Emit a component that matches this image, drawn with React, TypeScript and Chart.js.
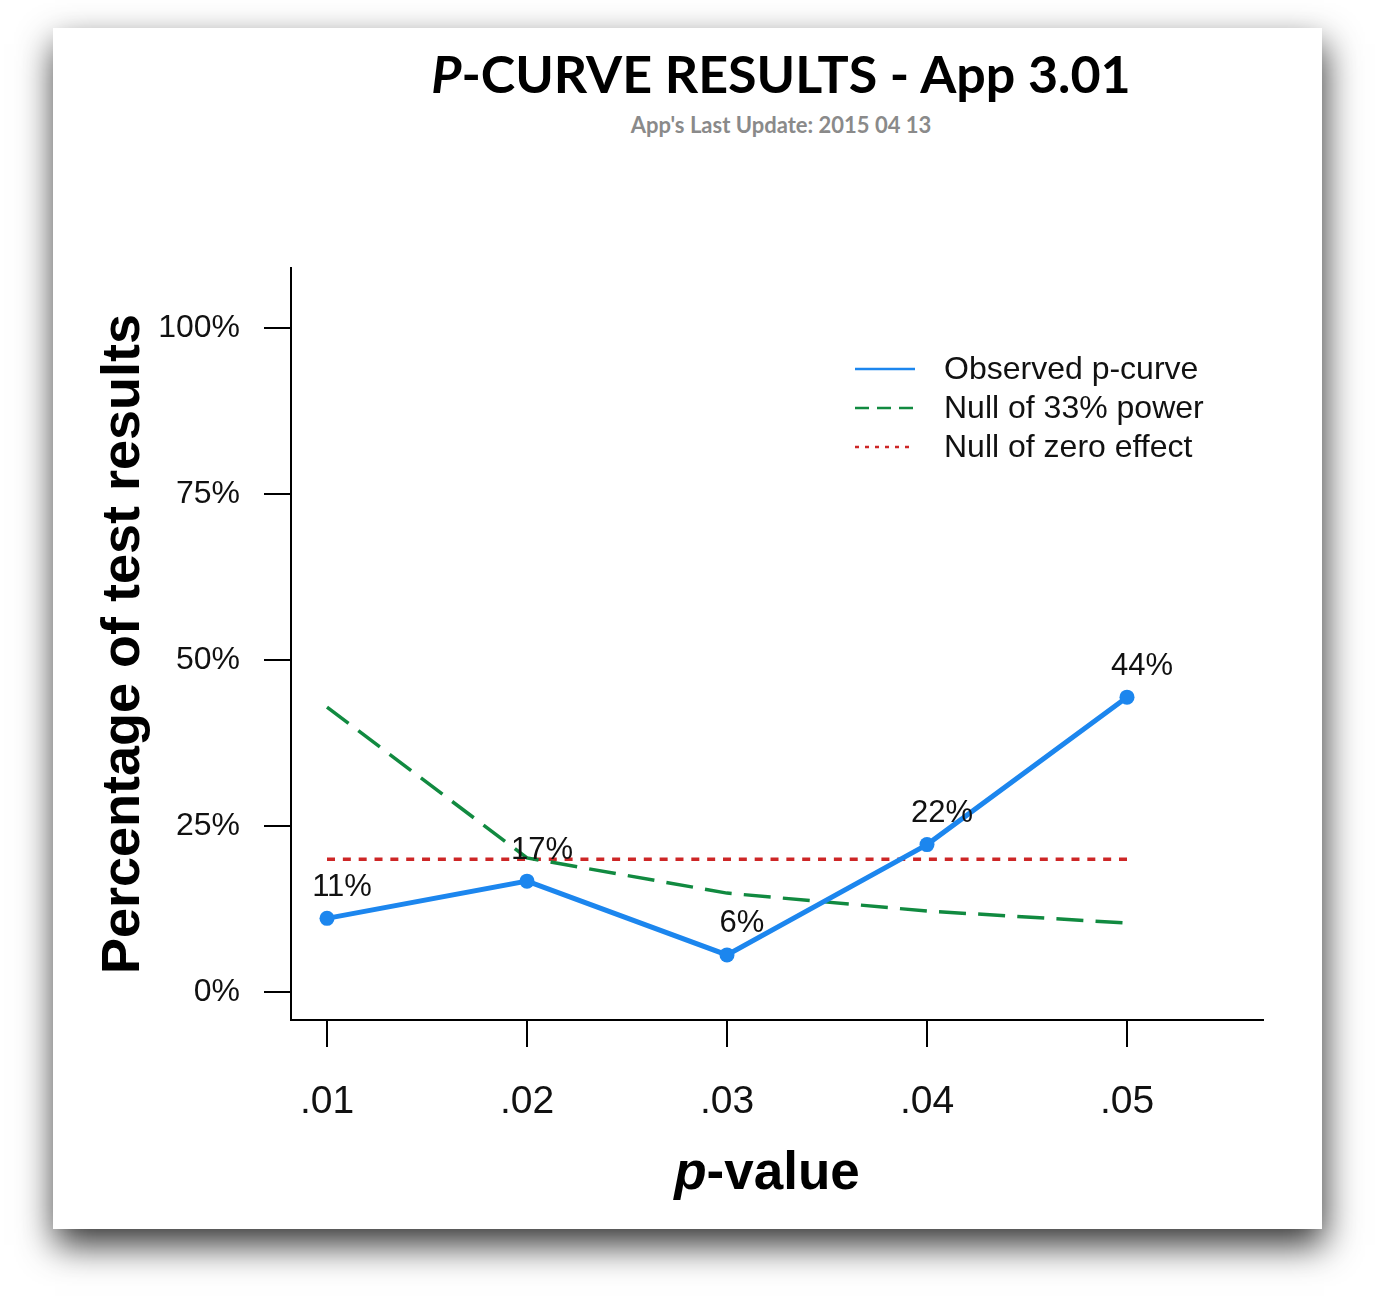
import React, { useEffect, useRef } from "react";
import { Chart, registerables } from "chart.js";

Chart.register(...registerables);

// ---- data ----
const pValues = [0.01, 0.02, 0.03, 0.04, 0.05];
const observed = [11.1, 16.7, 5.6, 22.2, 44.4];
const null33 = [42.9, 20.2, 14.9, 12.2, 10.4];
const nullZero = [20, 20, 20, 20, 20];
const observedLabels = ["11%", "17%", "6%", "22%", "44%"];
const xTickValues = [0.01, 0.02, 0.03, 0.04, 0.05];
const xTickLabels = [".01", ".02", ".03", ".04", ".05"];
const yTickValues = [0, 25, 50, 75, 100];
const yTickLabels = ["0%", "25%", "50%", "75%", "100%"];
const seriesNames = ["Observed p-curve", "Null of 33% power", "Null of zero effect"];

const BLUE = "#1C86EE";
const GREEN = "#118A40";
const RED = "#CD2626";
const FONT = '"Liberation Sans", Arial, Helvetica, sans-serif';

const overlayPlugin = {
  id: "overlay",
  afterDatasetsDraw(chart: any) {
    const ctx = chart.ctx as CanvasRenderingContext2D;
    const area = chart.chartArea;
    ctx.save();
    // data labels on observed curve
    const meta = chart.getDatasetMeta(0);
    ctx.font = `31px ${FONT}`;
    ctx.fillStyle = "#111";
    ctx.textAlign = "center";
    ctx.textBaseline = "middle";
    meta.data.forEach((pt: any, i: number) => {
      ctx.fillText(observedLabels[i], pt.x + 15, pt.y - 31);
    });

    // legend
    const styles = [
      { color: BLUE, dash: [] as number[], width: 2.5 },
      { color: GREEN, dash: [14, 8], width: 2.5 },
      { color: RED, dash: [4, 6], width: 2.5 },
    ];
    const lx1 = area.left + 564;
    const lx2 = area.left + 624;
    const tx = area.left + 653;
    const rowY = [area.top + 101, area.top + 140, area.top + 179];
    ctx.font = `32px ${FONT}`;
    ctx.textAlign = "left";
    ctx.textBaseline = "middle";
    seriesNames.forEach((name, i) => {
      const s = styles[i];
      ctx.beginPath();
      ctx.setLineDash(s.dash);
      ctx.strokeStyle = s.color;
      ctx.lineWidth = s.width;
      ctx.moveTo(lx1, rowY[i]);
      ctx.lineTo(lx2, rowY[i]);
      ctx.stroke();
      ctx.setLineDash([]);
      ctx.fillStyle = "#111";
      ctx.fillText(name, tx, rowY[i] + 1);
    });

    // y axis title
    ctx.save();
    ctx.translate(area.left - 152, (area.top + area.bottom) / 2);
    ctx.rotate(-Math.PI / 2);
    ctx.font = `bold 54px ${FONT}`;
    ctx.fillStyle = "#000";
    ctx.textAlign = "center";
    ctx.textBaseline = "alphabetic";
    ctx.fillText("Percentage of test results", 0, 0);
    ctx.restore();

    // x axis title: italic p + bold -value
    const partA = "p";
    const partB = "-value";
    const fA = `italic bold 53px ${FONT}`;
    const fB = `bold 53px ${FONT}`;
    ctx.font = fA;
    const wA = ctx.measureText(partA).width;
    ctx.font = fB;
    const wB = ctx.measureText(partB).width;
    const cx = (area.left + area.right) / 2 - 10;
    const startX = cx - (wA + wB) / 2;
    const by = area.bottom + 169;
    ctx.textAlign = "left";
    ctx.textBaseline = "alphabetic";
    ctx.fillStyle = "#000";
    ctx.font = fA;
    ctx.fillText(partA, startX, by);
    ctx.font = fB;
    ctx.fillText(partB, startX + wA, by);
    ctx.restore();
  },
};

export default function App() {
  const canvasRef = useRef<HTMLCanvasElement | null>(null);

  useEffect(() => {
    const canvas = canvasRef.current;
    if (!canvas) return;
    const chart = new Chart(canvas, {
      type: "line",
      data: {
        datasets: [
          {
            label: seriesNames[0],
            data: pValues.map((x, i) => ({ x, y: observed[i] })),
            borderColor: BLUE,
            backgroundColor: BLUE,
            borderWidth: 5,
            pointRadius: 7.5,
            pointBackgroundColor: BLUE,
            pointBorderWidth: 0,
            tension: 0,
          },
          {
            label: seriesNames[1],
            data: pValues.map((x, i) => ({ x, y: null33[i] })),
            borderColor: GREEN,
            borderWidth: 3.5,
            borderDash: [27, 12.2],
            pointRadius: 0,
            tension: 0,
          },
          {
            label: seriesNames[2],
            data: pValues.map((x, i) => ({ x, y: nullZero[i] })),
            borderColor: RED,
            borderWidth: 3.5,
            borderDash: [8, 7.84],
            pointRadius: 0,
            tension: 0,
          },
        ],
      },
      options: {
        responsive: false,
        animation: false,
        devicePixelRatio: 1,
        layout: { padding: { left: 0, top: 268, right: 112, bottom: 0 } },
        plugins: {
          legend: { display: false },
          title: { display: false },
          tooltip: { enabled: false },
        },
        scales: {
          x: {
            type: "linear",
            min: 0.0082,
            max: 0.0568,
            afterBuildTicks: (scale: any) => {
              scale.ticks = xTickValues.map((v) => ({ value: v }));
            },
            afterFit: (scale: any) => {
              scale.height = 287;
            },
            ticks: {
              autoSkip: false,
              maxRotation: 0,
              padding: 32,
              color: "#111",
              font: { family: FONT, size: 39 },
              callback: (v: any) => {
                const i = xTickValues.findIndex((t) => Math.abs(t - v) < 1e-9);
                return i >= 0 ? xTickLabels[i] : "";
              },
            },
            grid: {
              display: true,
              drawOnChartArea: false,
              drawTicks: true,
              tickLength: 27,
              color: "#000",
              lineWidth: 2,
            },
            border: { display: true, color: "#000", width: 2 },
          },
          y: {
            type: "linear",
            min: -4.2,
            max: 109,
            afterBuildTicks: (scale: any) => {
              scale.ticks = yTickValues.map((v) => ({ value: v }));
            },
            afterFit: (scale: any) => {
              scale.width = 291;
            },
            ticks: {
              autoSkip: false,
              padding: 24,
              color: "#111",
              font: { family: FONT, size: 32 },
              callback: (v: any) => {
                const i = yTickValues.findIndex((t) => Math.abs(t - v) < 1e-9);
                return i >= 0 ? yTickLabels[i] : "";
              },
            },
            grid: {
              display: true,
              drawOnChartArea: false,
              drawTicks: true,
              tickLength: 27,
              color: "#000",
              lineWidth: 2,
            },
            border: { display: true, color: "#000", width: 2 },
          },
        },
      },
      plugins: [overlayPlugin],
    } as any);
    return () => chart.destroy();
  }, []);

  return (
    <div style={{ position: "absolute", left: 0, top: 0, width: 1375, height: 1307, background: "#fff", overflow: "hidden" }}>
      <div
        style={{
          position: "absolute",
          left: 53,
          top: 28,
          width: 1269,
          height: 1201,
          background: "#fff",
          boxShadow: "2px 16px 34px rgba(0,0,0,0.8)",
        }}
      />
      <div
        style={{
          position: "absolute",
          left: 381,
          top: 47,
          width: 800,
          textAlign: "center",
          fontFamily: "Lato, 'Open Sans', sans-serif",
          fontWeight: 700,
          fontSize: 52,
          lineHeight: "52px",
          color: "#000",
          whiteSpace: "nowrap",
        }}
      >
        <span style={{ fontStyle: "italic" }}>P</span>-CURVE RESULTS - App 3.01
      </div>
      <div
        style={{
          position: "absolute",
          left: 381,
          top: 114,
          width: 800,
          textAlign: "center",
          fontFamily: "Lato, 'Open Sans', sans-serif",
          fontWeight: 700,
          fontSize: 22,
          lineHeight: "22px",
          color: "#8a8a8a",
          whiteSpace: "nowrap",
        }}
      >
        App's Last Update: 2015 04 13
      </div>
      <canvas
        ref={canvasRef}
        width={1375}
        height={1307}
        style={{ position: "absolute", left: 0, top: 0, width: 1375, height: 1307 }}
      />
    </div>
  );
}
